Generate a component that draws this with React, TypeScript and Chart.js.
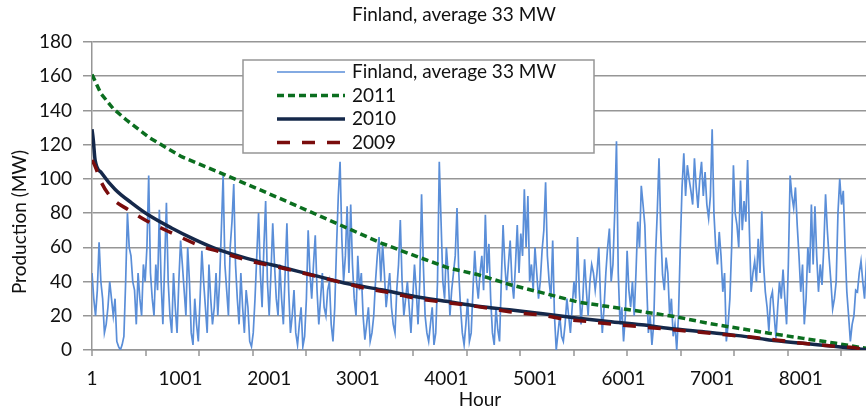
import React, { useEffect, useRef } from "react";
import { Chart, registerables } from "chart.js";

Chart.register(...registerables);

// ---------- data ----------
const CHART_TITLE = "Finland, average 33 MW";
const Y_AXIS_TITLE = "Production (MW)";
const X_AXIS_TITLE = "Hour";
const SERIES_LABELS = ["Finland, average 33 MW", "2011", "2010", "2009"];

const X_TICK_LABELS = [1, 1001, 2001, 3001, 4001, 5001, 6001, 7001, 8001];
const X_MIN = 1;
const X_MAX = 8760;
const X_TICK_MARK_STEP = 604;
const Y_MIN = 0;
const Y_MAX = 180;
const Y_STEP = 20;

// hourly production sampled every HOUR_STEP hours, starting at hour 1
const HOUR_START = 1;
const HOUR_STEP = 20;
const HOURLY_MW = [
  45, 30, 20, 35, 63, 40, 30, 10, 15, 25, 40, 30, 20, 30, 5, 2, 0, 3, 8, 40, 80, 60, 55, 40, 35, 15, 45, 30, 20, 50, 40, 60, 102, 45, 30, 20, 50, 35, 82, 40, 15, 50, 86, 40, 20, 10, 45, 25, 10, 40, 64, 50, 35, 20, 60, 40, 10, 3, 30, 15, 5, 30, 58, 40, 25, 10, 50, 30, 15, 25, 45, 20,
  40, 70, 102, 50, 35, 20, 60, 75, 97, 50, 30, 15, 45, 25, 10, 35, 25, 5, 2, 10, 30, 55, 80, 45, 25, 60, 87, 40, 20, 45, 74, 50, 30, 20, 50, 30, 15, 45, 74, 35, 10, 20, 35, 10, 3, 15, 25, 2, 8, 30, 70, 45, 30, 50, 67, 35, 15, 30, 45, 25, 20, 35, 40, 15, 5, 25, 60, 90, 110, 65, 40, 55, 84, 45,
  85, 50, 30, 20, 55, 35, 45, 20, 6, 15, 25, 5, 10, 20, 40, 55, 66, 40, 62, 45, 25, 35, 45, 25, 15, 10, 35, 50, 76, 40, 20, 30, 40, 25, 10, 30, 50, 35, 15, 40, 91, 50, 20, 10, 5, 15, 25, 3, 10, 40, 110, 75, 40, 30, 60, 45, 20, 35, 45, 55, 83, 45, 25, 10, 3, 15, 30, 5, 10, 35, 58, 40,
  30, 45, 55, 35, 79, 45, 62, 30, 10, 3, 25, 12, 5, 40, 73, 50, 35, 50, 64, 40, 30, 50, 73, 45, 68, 55, 94, 60, 90, 40, 50, 35, 60, 45, 30, 40, 58, 70, 98, 55, 40, 30, 64, 20, 0, 10, 20, 8, 5, 15, 30, 20, 10, 25, 40, 30, 66, 35, 15, 30, 53, 35, 20, 40, 50, 45, 35, 45, 60, 30, 10, 25, 45, 60,
  71, 40, 50, 80, 122, 45, 15, 25, 5, 20, 58, 35, 25, 40, 20, 45, 75, 60, 96, 85, 73, 40, 10, 20, 3, 15, 54, 80, 112, 70, 44, 35, 54, 45, 20, 30, 8, 15, 0, 20, 60, 95, 115, 90, 108, 100, 93, 85, 112, 95, 83, 100, 110, 90, 104, 85, 77, 90, 129, 80, 60, 50, 69, 55, 34, 45, 5, 15, 30, 60, 108, 80, 73, 60,
  99, 70, 87, 75, 111, 70, 34, 45, 52, 40, 65, 45, 81, 50, 34, 25, 11, 30, 34, 20, 7, 25, 40, 30, 47, 30, 15, 50, 102, 90, 83, 95, 73, 55, 34, 50, 15, 30, 60, 45, 85, 50, 84, 55, 34, 50, 38, 60, 91, 70, 54, 40, 24, 30, 40, 80, 100, 85, 93, 60, 34, 20, 5, 15, 20, 35, 34, 45, 52, 40, 30, 50, 65,
];

// duration curves
const Y2011_HOURS = [1, 100, 241, 400, 650, 1012, 1427, 2103, 2893, 3265, 3649, 4021, 4361, 4733, 5117, 5489, 5828, 6200, 6584, 6956, 7295, 7645, 8028, 8400, 8760];
const Y2011_MW = [161, 150, 141, 134, 124, 113, 104, 89, 71, 62.5, 55, 48, 44, 38, 33, 28, 25.4, 22.5, 19.5, 15.6, 12.7, 9.8, 6.8, 3.9, 0.8];

const Y2010_HOURS = [1, 15, 36, 109, 260, 447, 635, 898, 1162, 1427, 1802, 2179, 2555, 2893, 3268, 3645, 4021, 4360, 4736, 5113, 5489, 5828, 6203, 6580, 6956, 7295, 7645, 8023, 8400, 8760];
const Y2010_MW = [129, 123, 111, 103.5, 94, 86, 79, 71.3, 64.5, 58.6, 52.8, 47.9, 43, 38.7, 35.2, 31.3, 28.3, 25.6, 23.4, 21.1, 18.6, 16.6, 14.7, 12.3, 10.4, 8.4, 5.9, 3.9, 2.0, 0];

const Y2009_HOURS = [1, 35, 109, 222, 411, 636, 899, 1238, 1427, 1802, 2179, 2555, 2893, 3082, 3383, 3646, 3910, 4211, 4474, 4775, 5057, 5339, 5603, 5885, 6167, 6468, 6768, 7032, 7220, 7461, 7724, 8025, 8326, 8590, 8760];
const Y2009_MW = [111, 107.5, 97.7, 88.9, 82, 75, 68.4, 60.6, 57.6, 51.8, 47.5, 42.8, 38.5, 36.1, 33.2, 30.3, 28.3, 26.4, 24.4, 21.9, 20.5, 18, 16.6, 15, 13.7, 12.3, 10.8, 9.5, 8.6, 7.4, 5.9, 3.9, 2.5, 1.4, 0];

// ---------- styling ----------
const FONT_FAMILY = "Lato, 'Noto Sans', sans-serif";
const FONT_SIZE = 19;
const TEXT_COLOR = "#111111";
const GRID_COLOR = "#969696";
const BLUE = "#5A8ED8";
const GREEN = "#0B6E1F";
const NAVY = "#15284A";
const DARK_RED = "#7A0C0C";

const pairs = (xs: number[], ys: number[]) => xs.map((x, i) => ({ x, y: ys[i] }));

const decorPlugin = {
  id: "decor",
  afterDraw(chart: any) {
    const { ctx, chartArea, scales } = chart;
    const xs = scales.x;
    ctx.save();
    ctx.font = `${FONT_SIZE}px ${FONT_FAMILY}`;
    ctx.fillStyle = TEXT_COLOR;
    ctx.textBaseline = "middle";

    // title
    ctx.textAlign = "center";
    ctx.fillText(CHART_TITLE, 454, 15);

    // y axis title
    ctx.save();
    ctx.translate(20, 222);
    ctx.rotate(-Math.PI / 2);
    ctx.fillText(Y_AXIS_TITLE, 0, 0);
    ctx.restore();

    // x axis title
    ctx.fillText(X_AXIS_TITLE, (chartArea.left + chartArea.right) / 2, 400);

    // x tick marks
    ctx.strokeStyle = GRID_COLOR;
    ctx.lineWidth = 1.5;
    ctx.beginPath();
    for (let h = X_MIN; h <= X_MAX; h += X_TICK_MARK_STEP) {
      const px = Math.round(xs.getPixelForValue(h));
      ctx.moveTo(px, chartArea.bottom);
      ctx.lineTo(px, chartArea.bottom + 6);
    }
    ctx.stroke();

    // legend box
    const bx = 243, by = 60, bw = 351, bh = 93;
    ctx.fillStyle = "#ffffff";
    ctx.fillRect(bx, by, bw, bh);
    ctx.strokeStyle = GRID_COLOR;
    ctx.lineWidth = 1.5;
    ctx.strokeRect(bx, by, bw, bh);

    chart.data.datasets.forEach((ds: any, i: number) => {
      const ry = 72 + 23.5 * i;
      ctx.save();
      ctx.strokeStyle = ds.borderColor;
      ctx.lineWidth = ds.borderWidth;
      ctx.setLineDash(ds.borderDash || []);
      ctx.beginPath();
      ctx.moveTo(277, ry);
      ctx.lineTo(345, ry);
      ctx.stroke();
      ctx.restore();
      ctx.fillStyle = TEXT_COLOR;
      ctx.textAlign = "left";
      ctx.fillText(ds.label, 352, ry);
    });

    ctx.restore();
  },
};

export default function App() {
  const canvasRef = useRef<HTMLCanvasElement | null>(null);

  useEffect(() => {
    if (!canvasRef.current) return;
    const hourly = HOURLY_MW.map((v, i) => ({ x: HOUR_START + i * HOUR_STEP, y: v }));
    const chart = new Chart(canvasRef.current, {
      type: "line",
      data: {
        datasets: [
          {
            label: SERIES_LABELS[0],
            data: hourly,
            borderColor: BLUE,
            borderWidth: 1.7,
            pointRadius: 0,
            order: 4,
          },
          {
            label: SERIES_LABELS[1],
            data: pairs(Y2011_HOURS, Y2011_MW),
            borderColor: GREEN,
            borderWidth: 3.5,
            borderDash: [7, 4],
            pointRadius: 0,
            order: 3,
          },
          {
            label: SERIES_LABELS[2],
            data: pairs(Y2010_HOURS, Y2010_MW),
            borderColor: NAVY,
            borderWidth: 3.5,
            pointRadius: 0,
            cubicInterpolationMode: "monotone",
            order: 2,
          },
          {
            label: SERIES_LABELS[3],
            data: pairs(Y2009_HOURS, Y2009_MW),
            borderColor: DARK_RED,
            borderWidth: 3.5,
            borderDash: [13, 12],
            pointRadius: 0,
            cubicInterpolationMode: "monotone",
            order: 1,
          },
        ],
      },
      options: {
        responsive: false,
        animation: false,
        devicePixelRatio: 1,
        layout: { padding: { left: 0, top: 42, right: 0, bottom: 0 } },
        plugins: {
          legend: { display: false },
          title: { display: false },
          tooltip: { enabled: false },
        },
        scales: {
          x: {
            type: "linear",
            min: X_MIN,
            max: X_MAX,
            afterBuildTicks: (s: any) => {
              s.ticks = X_TICK_LABELS.map((v) => ({ value: v }));
            },
            afterFit: (s: any) => {
              s.height = 60;
            },
            ticks: {
              autoSkip: false,
              maxRotation: 0,
              minRotation: 0,
              padding: 17,
              color: TEXT_COLOR,
              font: { family: FONT_FAMILY, size: FONT_SIZE },
              callback: (v: any) => String(v),
            },
            grid: { display: false, drawTicks: false },
            border: { display: true, color: GRID_COLOR, width: 1.5 },
          },
          y: {
            min: Y_MIN,
            max: Y_MAX,
            afterFit: (s: any) => {
              s.width = 92;
            },
            ticks: {
              stepSize: Y_STEP,
              padding: 11,
              color: TEXT_COLOR,
              font: { family: FONT_FAMILY, size: FONT_SIZE },
            },
            grid: { color: GRID_COLOR, lineWidth: 1.5, tickLength: 9, drawTicks: true },
            border: { display: true, color: GRID_COLOR, width: 1.5 },
          },
        },
      },
      plugins: [decorPlugin],
    });
    return () => chart.destroy();
  }, []);

  return (
    <div style={{ position: "absolute", left: 0, top: 0, width: 866, height: 410, overflow: "hidden", background: "#fff" }}>
      <canvas ref={canvasRef} width={868} height={410} style={{ display: "block" }} />
    </div>
  );
}
